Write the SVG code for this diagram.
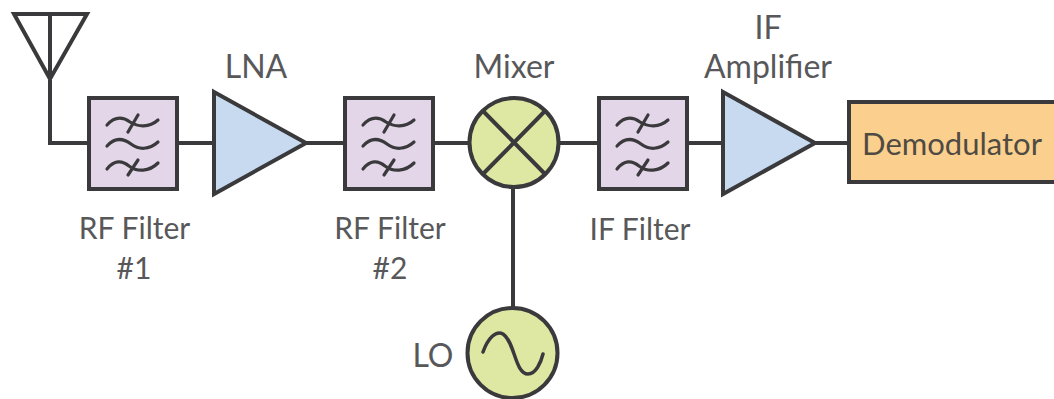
<svg xmlns="http://www.w3.org/2000/svg" width="1054" height="399" viewBox="0 0 1054 399">
<defs>
<style>
.s{stroke:#3a3a3c;stroke-width:4;stroke-linejoin:miter}
.l{fill:none;stroke:#3a3a3c;stroke-width:4}
.w{fill:none;stroke:#3a3a3c;stroke-width:3.2;stroke-linecap:round}
.f{fill:#e4d6e9}.a{fill:#c8daf0}.g{fill:#dfe8a2}
text{font-family:"Lato","Noto Sans",sans-serif;font-size:32px;fill:#58585a;text-anchor:middle}
text.b{font-size:30px}
text.d{font-size:31px;fill:#4f4b42}
</style>
<g id="glyph">
<path class="w" d="M-25 -18C-17 -27 -9 -26 -2 -21C6 -16 17 -15 26 -23"/>
<path class="w" d="M6 -28L-4 -11"/>
<path class="w" d="M-25 3C-17 -6 -9 -5 -1 1C7 7 17 7 26 -1"/>
<path class="w" d="M-25 26C-18 17 -10 17 -3 23C5 29 17 29 26 20"/>
<path class="w" d="M6 17L-4 32"/>
</g>
</defs>
<rect width="1054" height="399" fill="#fff"/>
<g id="connectors">
<path class="l" d="M50 80V143H89"/>
<path class="l" d="M177 143H214"/>
<path class="l" d="M306 143H345"/>
<path class="l" d="M433 143H470"/>
<path class="l" d="M558 143H599"/>
<path class="l" d="M686 143H723"/>
<path class="l" d="M815 143H849"/>
<path class="l" d="M513 187V308"/>
</g>
<g id="antenna"><path class="l" d="M14 14H87L50 79ZM50 14V79"/></g>
<g id="rf1"><rect class="s f" x="89" y="98" width="88" height="91"/><use href="#glyph" x="132" y="143"/>
<text class="b" x="134.500" y="239">RF Filter</text><text class="b" x="134" y="279">#1</text></g>
<g id="lna"><path class="s a" d="M214 92L306 143L214 194Z"/><text x="256" y="78">LNA</text></g>
<g id="rf2"><rect class="s f" x="345" y="98" width="88" height="91"/><use href="#glyph" x="388" y="143"/>
<text class="b" x="390" y="239">RF Filter</text><text class="b" x="390" y="279">#2</text></g>
<g id="mixer"><circle class="s g" cx="514" cy="142.500" r="44.500"/><path class="l" d="M483 111L545 174M545 111L483 174"/><text x="514" y="78">Mixer</text></g>
<g id="iffilter"><rect class="s f" x="599" y="98" width="88" height="91"/><use href="#glyph" x="642" y="143"/>
<text class="b" x="640" y="240">IF Filter</text></g>
<g id="ifamp"><path class="s a" d="M723 92L815 143L723 194Z"/><text x="768" y="39">IF</text><text x="768" y="78">Amplifier</text></g>
<g id="demod"><rect class="s" x="849" y="102" width="210" height="80" fill="#fbd08f"/><text class="d" x="952" y="155">Demodulator</text></g>
<g id="lo"><circle class="s g" cx="512.500" cy="353" r="45"/><path class="l" d="M483 352C488 338 496 330 503 334C515 342 515 374 528 374C536 374 541 362 543 354" style="stroke-width:3.5;stroke-linecap:round"/><text x="433" y="367">LO</text></g>
</svg>
